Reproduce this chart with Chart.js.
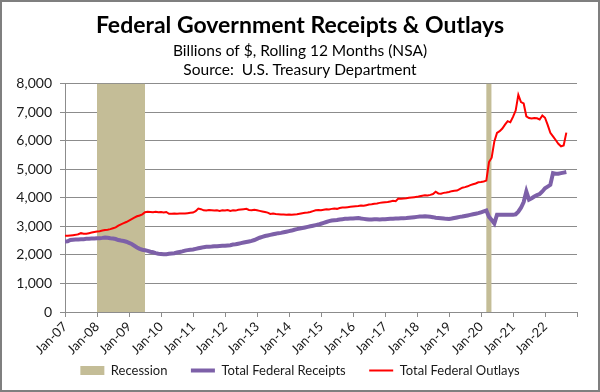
<!DOCTYPE html>
<html>
<head>
<meta charset="utf-8">
<script src="https://cdn.jsdelivr.net/npm/chart.js@4.4.1/dist/chart.umd.min.js"></script>
<style>
  html, body { margin: 0; padding: 0; background: #fff; }
  canvas { display: block; }
</style>
</head>
<body>
<canvas id="chart" width="600" height="392"></canvas>
<script>
'use strict';

// Tick labels on the time axis (one per January)
const yearLabels = ['Jan-07', 'Jan-08', 'Jan-09', 'Jan-10', 'Jan-11', 'Jan-12', 'Jan-13', 'Jan-14',
    'Jan-15', 'Jan-16', 'Jan-17', 'Jan-18', 'Jan-19', 'Jan-20', 'Jan-21', 'Jan-22'];
const firstYear = 2007;
const lastMonth = 192; // Jan-23, end of the axis

// Recession periods (start inclusive, end exclusive)
const recessionStart = ['2008-01', '2020-03'];
const recessionEnd = ['2009-07', '2020-05'];

// Monthly values, Jan-07 .. Sep-22, billions of $
const receipts = [
    2470, 2475, 2520, 2530, 2535, 2540, 2545, 2550, 2560, 2565, 2570, 2575,
    2580, 2585, 2595, 2610, 2600, 2580, 2570, 2555, 2520, 2500, 2485, 2460,
    2420, 2380, 2320, 2260, 2210, 2180, 2160, 2140, 2110, 2090, 2060, 2040,
    2030, 2020, 2025, 2040, 2050, 2060, 2080, 2100, 2120, 2150, 2165, 2180,
    2190, 2210, 2230, 2250, 2270, 2280, 2285, 2290, 2300, 2305, 2310, 2315,
    2320, 2330, 2340, 2360, 2370, 2390, 2410, 2430, 2450, 2470, 2490, 2520,
    2560, 2600, 2630, 2660, 2680, 2700, 2720, 2740, 2760, 2770, 2790, 2810,
    2830, 2850, 2880, 2900, 2920, 2940, 2960, 2980, 3000, 3020, 3040, 3060,
    3090, 3120, 3150, 3180, 3200, 3210, 3220, 3240, 3250, 3260, 3265, 3270,
    3275, 3285, 3290, 3270, 3260, 3250, 3235, 3240, 3245, 3250, 3240, 3245,
    3250, 3255, 3260, 3265, 3270, 3275, 3280, 3285, 3290, 3300, 3310, 3320,
    3330, 3340, 3345, 3350, 3345, 3335, 3320, 3300, 3290, 3280, 3270, 3260,
    3255, 3270, 3290, 3310, 3330, 3340, 3360, 3380, 3400, 3420, 3440, 3460,
    3490, 3520, 3550, 3330, 3220, 3100, 3400, 3400, 3400, 3400, 3405, 3400,
    3400, 3420, 3510, 3650, 3850, 4220, 3930, 3980, 4040, 4090, 4130, 4220,
    4330, 4390, 4450, 4860, 4840, 4840, 4860, 4880, 4900
];

const outlays = [
    2670, 2670, 2680, 2690, 2700, 2720, 2760, 2740, 2740, 2760, 2780, 2800,
    2820, 2830, 2850, 2870, 2880, 2900, 2930, 2960, 3020, 3070, 3110, 3150,
    3200, 3250, 3300, 3350, 3380, 3420, 3490, 3510, 3500, 3490, 3510, 3490,
    3500, 3480, 3500, 3440, 3440, 3450, 3440, 3445, 3450, 3450, 3460, 3470,
    3480, 3530, 3620, 3600, 3560, 3550, 3570, 3560, 3550, 3560, 3540, 3560,
    3550, 3570, 3540, 3560, 3550, 3580, 3590, 3600, 3610, 3570, 3560, 3580,
    3560, 3540, 3520, 3500, 3480, 3435, 3450, 3430, 3420, 3410, 3410, 3400,
    3410, 3400, 3410, 3420, 3440, 3460, 3470, 3480, 3500, 3530, 3560, 3570,
    3560, 3580, 3600, 3590, 3610, 3620, 3610, 3640, 3655, 3660, 3670, 3680,
    3690, 3700, 3710, 3730, 3720, 3740, 3760, 3770, 3790, 3800, 3820, 3830,
    3840, 3850, 3870, 3890, 3880, 3970, 3960, 3970, 3980, 4000, 4010, 4020,
    4030, 4050, 4070, 4090, 4080, 4100, 4130, 4210, 4150, 4140, 4170, 4180,
    4200, 4230, 4240, 4250, 4300, 4350, 4370, 4400, 4440, 4470, 4500, 4540,
    4550, 4570, 4600, 5250, 5400, 5970, 6270, 6330, 6420, 6560, 6680, 6640,
    6830, 7050, 7600, 7350, 7300, 6850, 6790, 6770, 6790, 6780, 6740, 6880,
    6800, 6550, 6270, 6150, 6020, 5890, 5800, 5830, 6280
];

const yMax = 8000;
const gridGray = '#8c8c8c';
const textColor = '#1a1a1a';

// month index counted from Jan of firstYear
function monthIndex(ym) {
    const parts = ym.split('-');
    return (parseInt(parts[0], 10) - firstYear) * 12 + parseInt(parts[1], 10) - 1;
}

// Build the recession shading as filled rectangles
const recessionPoints = [];
for (let i = 0; i < recessionStart.length; i++) {
    const s = monthIndex(recessionStart[i]);
    const e = monthIndex(recessionEnd[i]);
    recessionPoints.push({ x: s, y: 0 }, { x: s, y: yMax }, { x: e, y: yMax }, { x: e, y: 0 });
}

const toPoints = arr => arr.map((v, i) => ({ x: i, y: v }));

// Grey frame around the whole picture
const framePlugin = {
    id: 'frame',
    afterDraw(chart) {
        const c = chart.ctx;
        c.save();
        c.strokeStyle = '#7f7f7f';
        c.lineWidth = 2;
        c.strokeRect(1, 1, chart.width - 2, chart.height - 2);
        c.restore();
    }
};

Chart.defaults.font.family = 'Lato, "Open Sans", sans-serif';
Chart.defaults.color = textColor;

// legend items need wider gaps than the vertical padding allows
function legendLabels(chart) {
    const items = Chart.defaults.plugins.legend.labels.generateLabels(chart);
    items.sort((a, b) => a.datasetIndex - b.datasetIndex);
    items.forEach((item, i) => {
        if (i < items.length - 1) {
            item.text = item.text + '\u2002\u2002\u2002';
        }
    });
    return items;
}

const ctx = document.getElementById('chart').getContext('2d');
new Chart(ctx, {
    type: 'line',
    data: {
        datasets: [
            {
                label: 'Recession',
                data: recessionPoints,
                backgroundColor: '#c4bd97',
                borderColor: 'rgba(0,0,0,0)',
                borderWidth: 0,
                fill: 'origin',
                pointRadius: 0,
                pointStyle: 'rect',
                tension: 0,
                order: 3
            },
            {
                label: 'Total Federal Receipts',
                data: toPoints(receipts),
                borderColor: '#7d60a8',
                backgroundColor: '#7d60a8',
                borderWidth: 4,
                pointRadius: 0,
                pointStyle: 'line',
                fill: false,
                tension: 0,
                order: 2
            },
            {
                label: 'Total Federal Outlays',
                data: toPoints(outlays),
                borderColor: '#ff0000',
                backgroundColor: '#ff0000',
                borderWidth: 2,
                pointRadius: 0,
                pointStyle: 'line',
                fill: false,
                tension: 0,
                order: 1
            }
        ]
    },
    options: {
        responsive: false,
        animation: false,
        layout: { padding: { left: 0, right: 0, top: 0, bottom: 5 } },
        plugins: {
            title: {
                display: true,
                text: 'Federal Government Receipts & Outlays',
                color: '#000',
                font: { size: 23, weight: 'bold', lineHeight: 1 },
                padding: { top: 14.5, bottom: 0 }
            },
            subtitle: {
                display: true,
                text: ['Billions of $, Rolling 12 Months (NSA)', 'Source:  U.S. Treasury Department'],
                color: '#000',
                font: { size: 15.5, lineHeight: 1.25 },
                padding: { top: 3.5, bottom: 3.7 }
            },
            legend: {
                position: 'bottom',
                labels: {
                    usePointStyle: true,
                    pointStyleWidth: 24,
                    boxHeight: 9,
                    padding: 4,
                    color: textColor,
                    font: { size: 13 },
                    generateLabels: legendLabels
                }
            },
            tooltip: { enabled: false }
        },
        scales: {
            x: {
                type: 'linear',
                min: 0,
                max: lastMonth,
                ticks: {
                    stepSize: 12,
                    autoSkip: false,
                    minRotation: 45,
                    maxRotation: 45,
                    padding: 2,
                    font: { size: 13 },
                    callback: value => yearLabels[value / 12] || ''
                },
                grid: { drawOnChartArea: false, tickLength: 5, color: gridGray },
                border: { color: gridGray },
                afterFit: scale => { scale.height = 48; }
            },
            y: {
                min: 0,
                max: yMax,
                ticks: {
                    stepSize: 1000,
                    padding: 8,
                    font: { size: 14 },
                    callback: value => value.toLocaleString('en-US')
                },
                grid: { color: gridGray, tickLength: 5 },
                border: { color: gridGray },
                afterFit: scale => { scale.width = 65; }
            },
            // empty right-hand axis that only keeps the right margin
            yRight: {
                position: 'right',
                display: true,
                ticks: { display: false },
                grid: { display: false },
                border: { display: false },
                afterFit: scale => { scale.width = 23; }
            }
        }
    },
    plugins: [framePlugin]
});
</script>
</body>
</html>
